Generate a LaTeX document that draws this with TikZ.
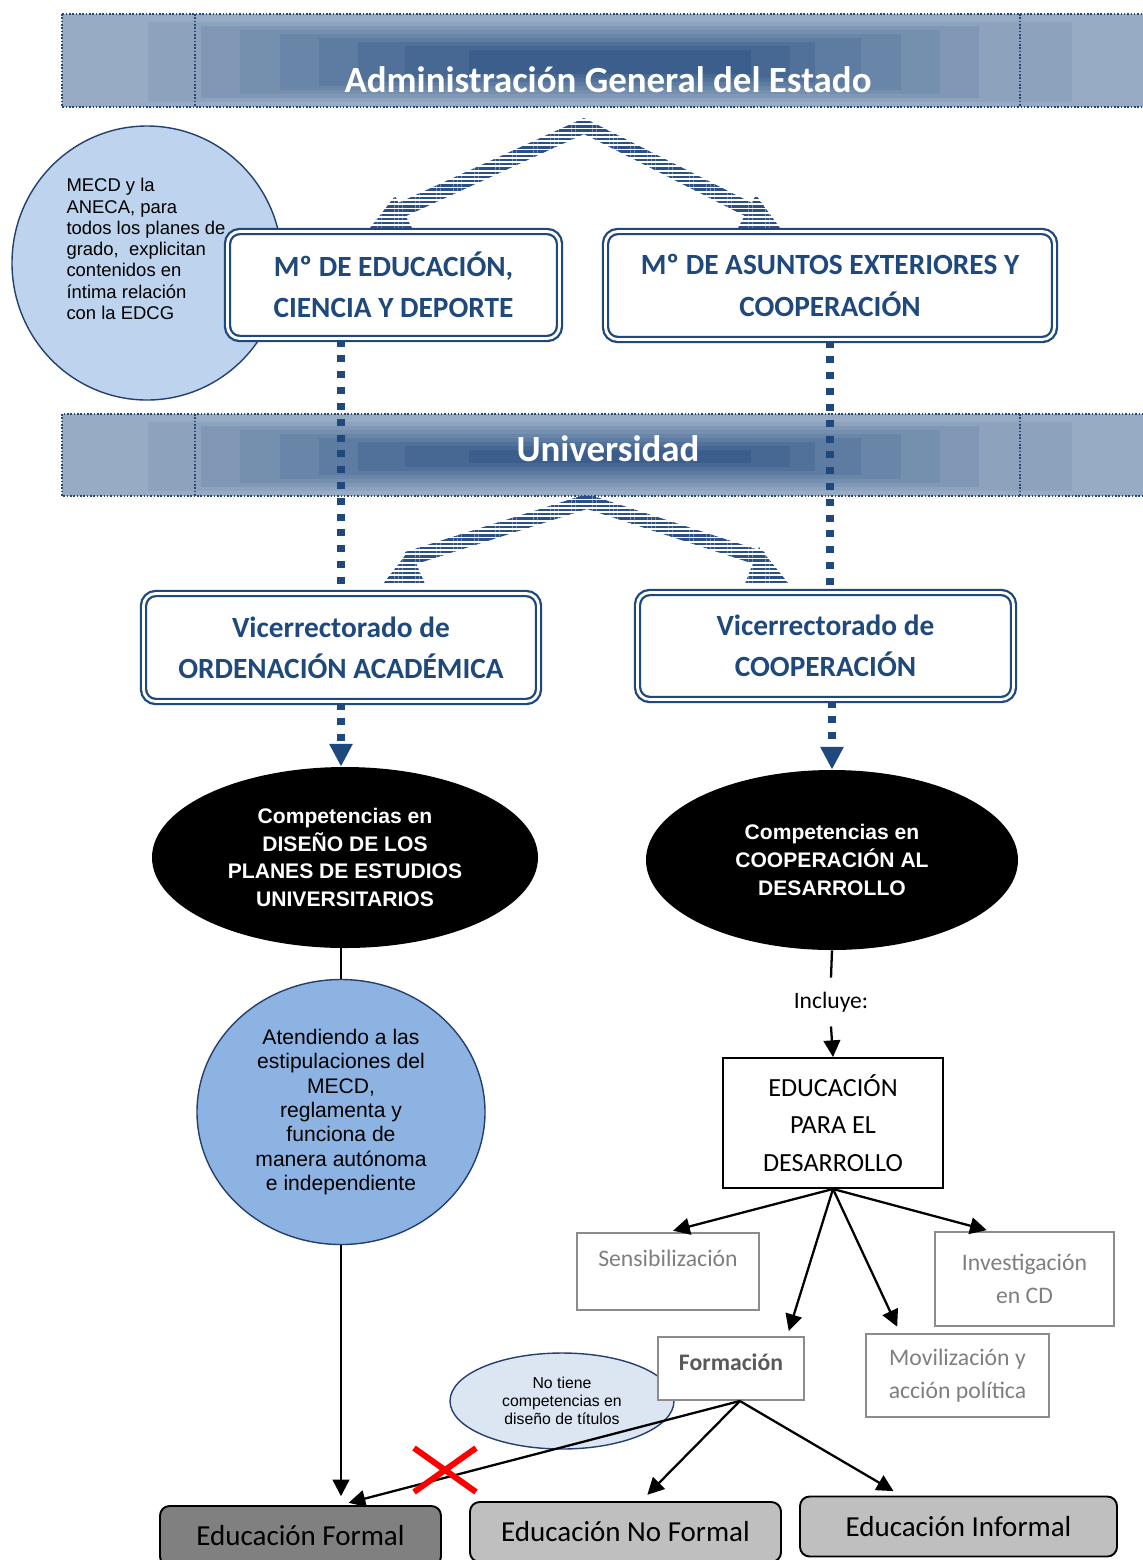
\documentclass[tikz,border=0pt]{standalone}
\usepackage{fontspec}
\setmainfont{Carlito}
\newfontfamily\arialf{Liberation Sans}
\usetikzlibrary{arrows.meta,shapes.geometric,shapes.misc,patterns.meta,calc}

\definecolor{bandlight}{RGB}{151,171,196}
\definecolor{banddark}{RGB}{59,94,140}
\definecolor{dotblue}{RGB}{40,70,120}
\definecolor{boxblue}{RGB}{31,73,125}
\definecolor{stripeblue}{RGB}{42,80,135}
\definecolor{anecafill}{RGB}{190,212,238}
\definecolor{atendfill}{RGB}{141,179,226}
\definecolor{notfill}{RGB}{220,230,242}
\definecolor{edgeblue}{RGB}{37,64,110}
\definecolor{boxgray}{RGB}{140,140,140}
\definecolor{txtgray}{RGB}{127,127,127}
\definecolor{formgray}{RGB}{89,89,89}
\definecolor{formalfill}{RGB}{128,128,128}
\definecolor{otherfill}{RGB}{191,191,191}

% one unit = one pixel of the page
\newcommand{\pix}{0.02cm}

\begin{document}
\begin{tikzpicture}[x=0.02cm, y=-0.02cm,
  bandtext/.style={text=white, font=\fontsize{21}{25}\selectfont\bfseries},
  banddot/.style={draw=dotblue, densely dotted, line width=0.9pt},
  stripes/.style={pattern={Lines[angle=0,distance=2.4pt,line width=1.35pt]}, pattern color=stripeblue},
  dbox/.style={draw=boxblue, line width=1.3pt, double=white, double distance=1.6pt,
    rounded corners=7pt, fill=white, inner sep=0pt, align=center, text=boxblue,
    font=\fontsize{16.7}{23.5}\selectfont\bfseries},
  dotline/.style={draw=boxblue, line width=4pt, dash pattern=on 4pt off 5pt},
  dotarrow/.style={dotline, -{Triangle[width=12.5pt,length=13pt]}},
  blackell/.style={ellipse, fill=black, inner sep=0pt, align=center, text=white,
    font=\arialf\fontsize{12}{15.7}\selectfont\bfseries},
  anecacirc/.style={ellipse, draw=edgeblue, line width=0.8pt, fill=anecafill,
    minimum width=270*\pix, minimum height=274*\pix},
  atendcirc/.style={ellipse, draw=edgeblue, line width=0.8pt, fill=atendfill, inner sep=0pt,
    minimum width=288*\pix, minimum height=265*\pix, align=center,
    font=\arialf\fontsize{12}{13.9}\selectfont},
  notell/.style={ellipse, draw=edgeblue, line width=0.8pt, fill=notfill, inner sep=0pt,
    minimum width=224*\pix, minimum height=96*\pix, align=center,
    font=\arialf\fontsize{9}{10.2}\selectfont},
  graybox/.style={draw=boxgray, line width=1.1pt, fill=white, inner sep=0pt, align=center,
    text=txtgray, font=\fontsize{13.5}{18.8}\selectfont},
  edubox/.style={draw=black, line width=1.1pt, rounded corners=5.5pt, inner sep=0pt,
    minimum height=60*\pix, font=\fontsize{16.5}{20}\selectfont},
  arr/.style={line width=1.3pt, -{Triangle[width=9.5pt,length=9.5pt]}}]

\useasboundingbox (0,0) rectangle (1143,1560);

% franjas azules
\foreach \ya/\yb in {14/107,414/496}{
  \fill[bandlight] (62,\ya) rectangle (1160,\yb);
  \foreach \xa/\xb [count=\i] in {148/1072,201/979,240/940,280/901,319/861,358/815,405/790,469/751}{
    \pgfmathtruncatemacro\mix{\i*12.5}
    \fill[banddark!\mix!bandlight] (\xa,{\ya+4+4*\i}) rectangle (\xb,{\yb-1-4*\i});
  }
  \draw[banddot] (62,\ya) rectangle (1160,\yb);
  \draw[banddot] (195,\ya) -- (195,\yb) (1020,\ya) -- (1020,\yb);
}
\node[bandtext] (adm) at (608,80) {Administración General del Estado};
\node[bandtext] (uni) at (608,449) {Universidad};

% flechas rayadas
\fill[stripes] (398,203) -- (584,118) -- (752,203) -- (745,216) -- (584,134) -- (404,217) -- cycle;
\fill[stripes] (395,196) -- (370,228) -- (412,228) -- cycle;
\fill[stripes] (756,195) -- (738,228) -- (780,228) -- cycle;
\fill[stripes] (405,552) -- (587,494) -- (765,552) -- (760,566) -- (587,509) -- (410,566) -- cycle;
\fill[stripes] (410,549) -- (383,584) -- (425,584) -- cycle;
\fill[stripes] (759,547) -- (745,584) -- (789,584) -- cycle;

% ministerios
\node[anecacirc] (aneca) at (147,263) {};
\node[dbox, minimum width=332*\pix, minimum height=107*\pix] (mecd) at (393.5,285)
  {Mº DE EDUCACIÓN,\\CIENCIA Y DEPORTE};
\node[dbox, minimum width=449*\pix, minimum height=108*\pix] (mae) at (830,285.5)
  {Mº DE ASUNTOS EXTERIORES Y\\COOPERACIÓN};
\node[align=left, inner sep=0pt, font=\arialf\fontsize{10.5}{12.1}\selectfont] (anecat) at (146,249)
  {MECD y la\\ANECA, para\\todos los planes de\\grado,\ \ explicitan\\contenidos en\\íntima relación\\con la EDCG};

% vicerrectorados
\node[dbox, minimum width=395*\pix, minimum height=108*\pix] (vicoa) at (341,647.5)
  {Vicerrectorado de\\ORDENACIÓN ACADÉMICA};
\node[dbox, minimum width=376*\pix, minimum height=107*\pix] (vico) at (825.5,646)
  {Vicerrectorado de\\COOPERACIÓN};

\draw[dotline] (vicoa.north |- mecd.south) -- (vicoa.north);
\draw[dotline] (mae.south) -- (mae.south |- vico.north);

% competencias
\node[blackell, minimum width=386*\pix, minimum height=181*\pix] (compa) at (345,857.5)
  {Competencias en\\DISEÑO DE LOS\\PLANES DE ESTUDIOS\\UNIVERSITARIOS};
\node[blackell, minimum width=372*\pix, minimum height=180*\pix] (compc) at (832,860)
  {Competencias en\\COOPERACIÓN AL\\DESARROLLO};

\draw[dotarrow] (vicoa.south) -- (vicoa.south |- compa.north);
\draw[dotarrow] (compc.north |- vico.south) -- (compc.north);

% rama izquierda
\node[atendcirc] (atend) at (341,1112)
  {Atendiendo a las\\estipulaciones del\\MECD,\\reglamenta y\\funciona de\\manera autónoma\\e independiente};

% rama derecha
\node[inner ysep=8pt, font=\fontsize{13.4}{16}\selectfont] (incl) at (831,1002) {Incluye:};
\node[draw, line width=1.1pt, inner sep=0pt, minimum width=220*\pix, minimum height=130*\pix,
  align=center, font=\fontsize{14.9}{21.3}\selectfont] (edbox) at (833,1123)
  {EDUCACIÓN\\PARA EL\\DESARROLLO};

\node[notell] (notiene) at (562,1401) {No tiene\\competencias en\\diseño de títulos};

\node[graybox, minimum width=182*\pix, minimum height=77*\pix] (sens) at (668,1271.5)
  {Sensibilización\\[-4pt]\mbox{}};
\node[graybox, minimum width=146*\pix, minimum height=63*\pix, text=formgray,
  font=\fontsize{13.5}{18.8}\selectfont\bfseries] (form) at (731,1368.5) {Formación\\[-12pt]\mbox{}};
\node[graybox, minimum width=183*\pix, minimum height=83*\pix] (movil) at (957.5,1375.5)
  {Movilización y\\acción política};
\node[graybox, minimum width=179*\pix, minimum height=94*\pix] (invest) at (1024.5,1279)
  {Investigación\\en CD};

% tipos de educacion
\node[edubox, fill=formalfill, minimum width=281*\pix] (formal) at (300.5,1536) {Educación Formal};
\node[edubox, fill=otherfill, minimum width=311*\pix] (noformal) at (625.5,1532) {Educación No Formal};
\node[edubox, fill=otherfill, minimum width=317*\pix] (informal) at (958.5,1526.5) {Educación Informal};

% conectores
\draw[line width=1.3pt] (atend.north |- compa.south) -- (atend.north);
\draw[arr, shorten >=5pt] (atend.south) -- (atend.south |- formal.north);
\draw[line width=1.3pt] (compc.south) -- (incl.north);
\draw[arr] (incl.south) -- (edbox.north);

\draw[arr, shorten >=3pt] (edbox.south) -- (sens.north);
\draw[arr, shorten >=3pt] (edbox.south) -- ($(form.north east)!0.12!(form.north west)$);
\draw[arr, shorten >=4pt] (edbox.south) -- ($(movil.north west)!0.19!(movil.north east)$);
\draw[arr, shorten >=2pt] (edbox.south) -- ($(invest.north west)!0.31!(invest.north east)$);

\coordinate (fs) at ($(form.south west)!0.56!(form.south east)$);
\draw[arr, shorten >=5pt] (fs) -- ($(formal.north west)!0.64!(formal.north east)$);
\draw[arr, shorten >=5pt] (fs) -- ($(noformal.north west)!0.55!(noformal.north east)$);
\draw[arr, shorten >=5pt] (fs) -- ($(informal.north west)!0.32!(informal.north east)$);

\node[cross out, draw=red, line width=3.4pt, inner sep=0pt,
  minimum width=56*\pix, minimum height=38*\pix] (nox) at (445,1470) {};

\end{tikzpicture}
\end{document}
